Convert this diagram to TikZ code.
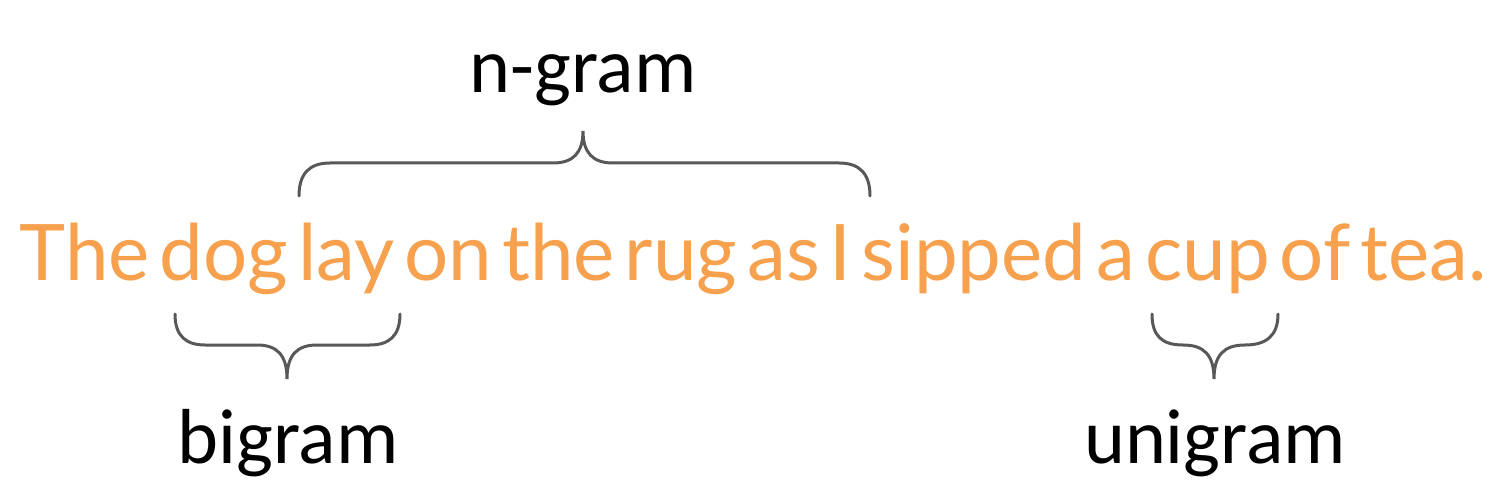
\documentclass[tikz,border=0pt]{standalone}
\usepackage{fontspec}
\setmainfont{Lato}[WordSpace=0.5]
\newfontfamily\labelfont{Carlito}
\definecolor{sentorange}{RGB}{247,160,77}
\definecolor{bracegray}{RGB}{88,88,88}
\tikzset{
  sentence/.style={inner sep=0pt, anchor=base, text=sentorange, font=\fontsize{78}{90}\selectfont},
  gramlabel/.style={inner sep=0pt, anchor=base, text=black, font=\labelfont\fontsize{78}{90}\selectfont},
  braceline/.style={draw=bracegray, line width=3pt, line cap=round}
}
\begin{document}
\begin{tikzpicture}[x=1pt, y=-1pt]
    \useasboundingbox (0, 0) rectangle (1502, 486);
    \node [sentence] (sent) at (753, 281) {The dog lay on the rug as I sipped a cup of tea.};
    \node [gramlabel] (ngram) at (583, 93) {n-gram};
    \node [gramlabel] (bigram) at (288, 463) {bigram};
    \node [gramlabel] (unigram) at (1215, 463) {unigram};
    % n-gram brace
    \draw [braceline] (299, 196) .. controls (299, 174) and (309, 163) .. (330, 163) -- (553, 163)
      .. controls (573, 163) and (583, 153) .. (583, 131)
      .. controls (583, 153) and (593, 163) .. (613, 163) -- (839, 163)
      .. controls (860, 163) and (870, 174) .. (870, 196);
    % bigram brace
    \draw [braceline] (175, 314) .. controls (175, 336) and (186, 345) .. (205, 345) -- (257, 345)
      .. controls (277, 345) and (287, 355) .. (287, 379)
      .. controls (287, 355) and (297, 345) .. (317, 345) -- (370, 345)
      .. controls (389, 345) and (400, 336) .. (400, 314);
    % unigram brace
    \draw [braceline] (1152, 314) .. controls (1152, 336) and (1162, 345) .. (1183, 345)
      .. controls (1204, 345) and (1214, 355) .. (1214, 379)
      .. controls (1214, 355) and (1224, 345) .. (1245, 345)
      .. controls (1266, 345) and (1278, 336) .. (1278, 314);
  \end{tikzpicture}
\end{document}
